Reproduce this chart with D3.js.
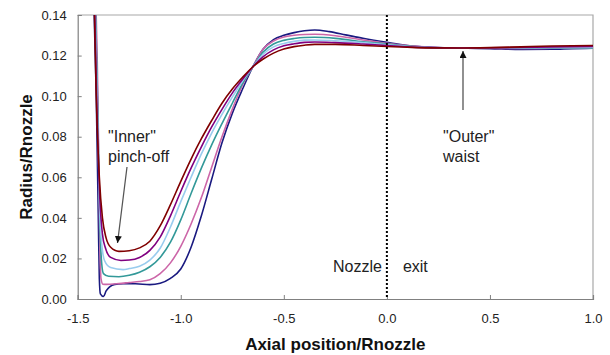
<!DOCTYPE html>
<html><head><meta charset="utf-8">
<script src="https://cdn.jsdelivr.net/npm/d3@7"></script>
<style>
body{margin:0;background:#fff;}
svg{display:block;font-family:Arial,"Liberation Sans",sans-serif;}
</style></head>
<body><svg id="c" width="610" height="355"></svg>
<script>
const xTicks = [-1.5, -1.0, -0.5, 0.0, 0.5, 1.0];
const yTicks = [0, 0.02, 0.04, 0.06, 0.08, 0.10, 0.12, 0.14];

const maroon = [[-1.423,0.16],[-1.41,0.10],[-1.395,0.06],[-1.38,0.04],[-1.362,0.030],[-1.34,0.0255],[-1.30,0.0235],[-1.25,0.0238],[-1.20,0.0252],[-1.15,0.0285],[-1.10,0.036],[-1.05,0.0465],[-1.00,0.058],[-0.95,0.069],[-0.90,0.079],[-0.85,0.088],[-0.80,0.0965],[-0.75,0.1035],[-0.70,0.1093],[-0.65,0.1145],[-0.60,0.1183],[-0.55,0.1212],[-0.50,0.1232],[-0.45,0.1244],[-0.40,0.1251],[-0.35,0.1255],[-0.25,0.1255],[-0.116,0.125],[0.0,0.1245],[0.1,0.1241],[0.2,0.1238],[0.35,0.1237],[0.5,0.1239],[0.65,0.1243],[0.8,0.1247],[1.0,0.1250]];
const purple = [[-1.421,0.16],[-1.408,0.10],[-1.393,0.05],[-1.38,0.032],[-1.365,0.025],[-1.34,0.0205],[-1.29,0.0190],[-1.25,0.0192],[-1.20,0.0205],[-1.15,0.024],[-1.10,0.0305],[-1.05,0.041],[-1.00,0.053],[-0.95,0.0645],[-0.90,0.075],[-0.85,0.0848],[-0.80,0.0935],[-0.75,0.1015],[-0.70,0.1083],[-0.65,0.1145],[-0.60,0.1195],[-0.55,0.1228],[-0.50,0.1248],[-0.45,0.1258],[-0.40,0.1265],[-0.35,0.1267],[-0.25,0.1264],[-0.116,0.1257],[0.0,0.125],[0.1,0.1243],[0.2,0.1239],[0.35,0.1237],[0.5,0.1238],[0.65,0.124],[0.8,0.1243],[1.0,0.1245]];
const lightBlue = [[-1.419,0.16],[-1.406,0.10],[-1.392,0.04],[-1.38,0.024],[-1.37,0.019],[-1.34,0.0155],[-1.28,0.0145],[-1.25,0.0150],[-1.20,0.0162],[-1.15,0.0192],[-1.10,0.025],[-1.05,0.0355],[-1.00,0.048],[-0.95,0.060],[-0.90,0.0715],[-0.85,0.0818],[-0.80,0.091],[-0.75,0.0995],[-0.70,0.1075],[-0.65,0.1145],[-0.60,0.1207],[-0.55,0.1243],[-0.50,0.126],[-0.45,0.127],[-0.40,0.1276],[-0.35,0.1277],[-0.25,0.1273],[-0.116,0.1264],[0.0,0.1253],[0.1,0.1245],[0.2,0.124],[0.35,0.1237],[0.5,0.1237],[0.65,0.1238],[0.8,0.124],[1.0,0.124]];
const teal = [[-1.417,0.16],[-1.404,0.10],[-1.392,0.035],[-1.384,0.018],[-1.375,0.0125],[-1.35,0.0112],[-1.30,0.0110],[-1.25,0.0117],[-1.20,0.0132],[-1.15,0.0159],[-1.10,0.0205],[-1.05,0.028],[-1.00,0.039],[-0.95,0.052],[-0.90,0.0645],[-0.85,0.076],[-0.80,0.0865],[-0.75,0.0965],[-0.70,0.1063],[-0.65,0.1145],[-0.60,0.1218],[-0.55,0.1257],[-0.50,0.1275],[-0.45,0.1284],[-0.40,0.1289],[-0.35,0.129],[-0.25,0.1285],[-0.116,0.1268],[0.0,0.1257],[0.1,0.1247],[0.2,0.124],[0.35,0.1237],[0.5,0.1236],[0.65,0.1236],[0.8,0.1238],[1.0,0.1238]];
const pink = [[-1.416,0.16],[-1.402,0.10],[-1.393,0.03],[-1.387,0.010],[-1.378,0.0073],[-1.36,0.0072],[-1.30,0.0076],[-1.25,0.0081],[-1.20,0.0086],[-1.15,0.0095],[-1.10,0.0125],[-1.05,0.0178],[-1.00,0.026],[-0.95,0.037],[-0.90,0.050],[-0.85,0.065],[-0.80,0.080],[-0.75,0.0935],[-0.70,0.1055],[-0.65,0.1145],[-0.60,0.1232],[-0.55,0.1272],[-0.50,0.1292],[-0.45,0.130],[-0.40,0.1304],[-0.35,0.1305],[-0.25,0.1298],[-0.116,0.1277],[0.0,0.126],[0.1,0.1249],[0.2,0.1241],[0.35,0.1237],[0.5,0.1236],[0.65,0.1235],[0.8,0.1236],[1.0,0.1237]];
const navy = [[-1.425,0.16],[-1.41,0.10],[-1.40,0.04],[-1.395,0.01],[-1.39,0.0025],[-1.375,0.0012],[-1.362,0.004],[-1.345,0.006],[-1.32,0.0072],[-1.28,0.0075],[-1.22,0.0075],[-1.15,0.0071],[-1.10,0.0078],[-1.05,0.0102],[-1.00,0.0148],[-0.95,0.0255],[-0.90,0.041],[-0.85,0.059],[-0.80,0.077],[-0.75,0.0915],[-0.70,0.1035],[-0.65,0.1145],[-0.60,0.1232],[-0.55,0.1279],[-0.50,0.130],[-0.45,0.1313],[-0.40,0.1322],[-0.35,0.1326],[-0.28,0.1318],[-0.20,0.1302],[-0.116,0.1285],[0.0,0.1265],[0.1,0.125],[0.2,0.1242],[0.35,0.1237],[0.5,0.1234],[0.65,0.123],[0.8,0.1231],[0.9,0.1234],[1.0,0.1236]];
const seriesList = [navy, pink, teal, lightBlue, purple, maroon];
const seriesColors = ["#1a1a80", "#cc66a8", "#339999", "#99ccee", "#800080", "#800000"];

const annotations = [
  {lines:['"Inner"','pinch-off'], x:108, y:141.5},
  {lines:['"Outer"','waist'], x:443, y:141.5}
];

const W=610,H=355, m={l:77.7,r:17,t:15,b:56};
const svg=d3.select("#c");
const x=d3.scaleLinear().domain([-1.5,1]).range([m.l,W-m.r]);
const y=d3.scaleLinear().domain([0,0.14]).range([H-m.b,m.t]);

const defs=svg.append("defs");
defs.append("clipPath").attr("id","clip").append("rect")
  .attr("x",x(-1.5)).attr("y",y(0.14)).attr("width",x(1)-x(-1.5)).attr("height",y(0)-y(0.14));

svg.append("path").attr("d",`M${x(-1.5)},${y(0.14)}H${x(1)}V${y(0)}`).attr("fill","none").attr("stroke","#a8a8a8").attr("stroke-width",1.2);

const line=d3.line().x(d=>x(d[0])).y(d=>y(d[1])).curve(d3.curveMonotoneX);
const g=svg.append("g").attr("clip-path","url(#clip)");
seriesList.forEach((s,i)=>{
  g.append("path").datum(s).attr("d",line).attr("fill","none")
   .attr("stroke",seriesColors[i]).attr("stroke-width",1.6).attr("stroke-linejoin","round");
});

const ax=svg.append("g").attr("transform",`translate(0,${y(0)})`)
  .call(d3.axisBottom(x).tickValues(xTicks).tickFormat(d3.format(".1f")).tickSize(-4).tickPadding(15));
const ay=svg.append("g").attr("transform",`translate(${x(-1.5)},0)`)
  .call(d3.axisLeft(y).tickValues(yTicks).tickFormat(d3.format(".2f")).tickSize(-4).tickPadding(11));
[ax,ay].forEach(a=>{
  a.selectAll("path.domain").attr("stroke","#808080").attr("stroke-width",1.2);
  a.selectAll(".tick line").attr("stroke","#808080");
  a.selectAll("text").attr("font-size",13).attr("fill","#222").attr("font-family","Arial, 'Liberation Sans', sans-serif");
});
ax.selectAll("text").text(d=>d3.format(".1f")(d).replace("−","-"));

svg.append("line").attr("x1",x(0)).attr("x2",x(0)).attr("y1",y(0.14)).attr("y2",y(0))
  .attr("stroke","#000").attr("stroke-width",2).attr("stroke-dasharray","2,2");

svg.append("text").attr("x",(x(-1.5)+x(1))/2).attr("y",350).attr("text-anchor","middle")
  .attr("font-weight","bold").attr("font-size",17).attr("fill","#111").text("Axial position/Rnozzle");
svg.append("text").attr("transform",`translate(32,${(y(0)+y(0.14))/2}) rotate(-90)`).attr("text-anchor","middle")
  .attr("font-weight","bold").attr("font-size",17).attr("fill","#111").text("Radius/Rnozzle");

annotations.forEach(a=>{
  const t=svg.append("text").attr("font-size",16).attr("fill","#222");
  a.lines.forEach((l,i)=>t.append("tspan").attr("x",a.x).attr("y",a.y+i*20).text(l));
});
svg.append("text").attr("x",x(0)-5).attr("y",271.5).attr("text-anchor","end").attr("font-size",16).attr("fill","#222").text("Nozzle");
svg.append("text").attr("x",x(0)+16).attr("y",271.5).attr("font-size",16).attr("fill","#222").text("exit");

defs.append("marker").attr("id","ah").attr("viewBox","0 0 10 10").attr("refX",10).attr("refY",5)
  .attr("markerWidth",7).attr("markerHeight",7).attr("markerUnits","userSpaceOnUse").attr("orient","auto")
  .append("path").attr("d","M0,0L10,5L0,10Z").attr("fill","#111");
svg.append("line").attr("x1",127).attr("y1",167).attr("x2",117.5).attr("y2",243)
  .attr("stroke","#555").attr("stroke-width",1.3).attr("marker-end","url(#ah)");
svg.append("line").attr("x1",463).attr("y1",110).attr("x2",463).attr("y2",51)
  .attr("stroke","#555").attr("stroke-width",1.3).attr("marker-end","url(#ah)");
</script></body></html>
